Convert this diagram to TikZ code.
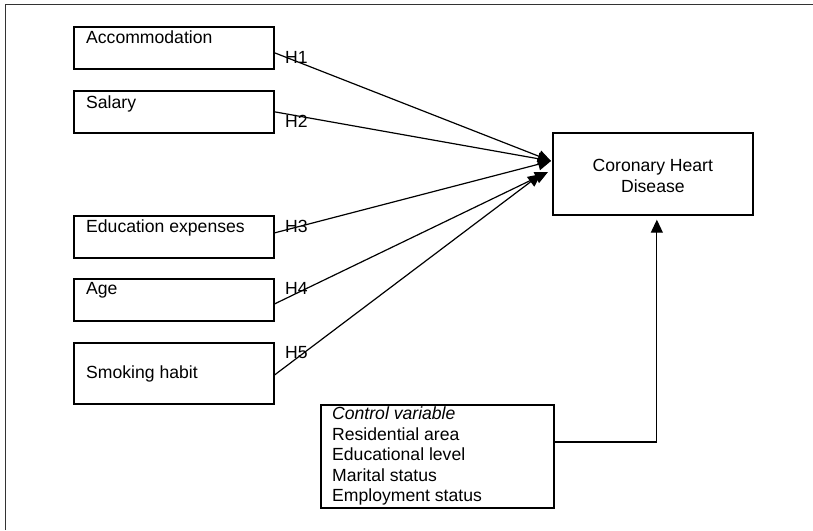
\documentclass[tikz,border=0pt]{standalone}
\usepackage{fontspec}
\setmainfont{Liberation Sans}
\usetikzlibrary{arrows.meta,calc}
\begin{document}
\begin{tikzpicture}[x=1pt,y=-1pt,
  box/.style={draw=black,line width=1.7pt,inner sep=0pt,anchor=north west},
  txt/.style={anchor=base west,inner sep=0pt,font=\fontsize{17.6}{20.5}\selectfont},
  hl/.style={anchor=base west,inner sep=0pt,font=\fontsize{17.6}{20.5}\selectfont},
  arr/.style={line width=1.2pt,-{Triangle[length=13pt,width=12pt]}},
  conn/.style={line width=1.2pt}]
\useasboundingbox (0,0) rectangle (813,530);
\draw[line width=1.5pt,black!80] (5.5,530) -- (5.5,4.5) -- (813,4.5);
% predictor boxes
\node[box,minimum width=200pt,minimum height=42pt] (acc) at (73,26) {};
\node[box,minimum width=200pt,minimum height=42pt] (sal) at (73,90) {};
\node[box,minimum width=200pt,minimum height=42pt] (edu) at (73,215) {};
\node[box,minimum width=200pt,minimum height=42pt] (age) at (73,278) {};
\node[box,minimum width=200pt,minimum height=61pt] (smk) at (73,342) {};
\node[txt] (tacc) at ($(acc.north west)+(13,17)$) {Accommodation};
\node[txt] (tsal) at ($(sal.north west)+(13,18)$) {Salary};
\node[txt] (tedu) at ($(edu.north west)+(13,17)$) {Education expenses};
\node[txt] (tage) at ($(age.north west)+(13,16)$) {Age};
\node[txt] (tsmk) at ($(smk.north west)+(13,36)$) {Smoking habit};
% outcome box
\node[box,minimum width=200pt,minimum height=82pt] (chd) at (552,132) {};
\node[anchor=center,inner sep=0pt,align=center,font=\fontsize{17.6}{21}\selectfont] (tchd) at ($(chd.center)+(0,2)$) {Coronary Heart\\Disease};
% control box
\node[box,minimum width=233pt,minimum height=103pt] (ctl) at (320,404) {};
\node[txt,anchor=north west,align=left] (tctl) at ($(ctl.north west)+(12,3)$) {\textit{Control variable}\\Residential area\\Educational level\\Marital status\\Employment status};
% arrow targets
\coordinate (e1) at (551,161);
\coordinate (e2) at (548,172);
\coordinate (e3) at (541,174);
% connectors
\draw[arr] ($(acc.east)+(0,5)$) -- (e1);
\draw[arr] (sal.east) -- (e1);
\draw[arr] ($(edu.east)+(0,-4)$) -- (e1);
\draw[arr] ($(age.east)+(0,4)$) -- (e2);
\draw[arr] ($(smk.east)+(0,1.5)$) -- (e3);
\draw[arr] (ctl.east |- 0,442) -| ($(chd.south)+(4,4)$);
% hypothesis labels
\node[hl] (h1) at (285,63) {H1};
\node[hl] (h2) at (285,127) {H2};
\node[hl] (h3) at (285,232) {H3};
\node[hl] (h4) at (285,294) {H4};
\node[hl] (h5) at (285,358) {H5};
\end{tikzpicture}
\end{document}
